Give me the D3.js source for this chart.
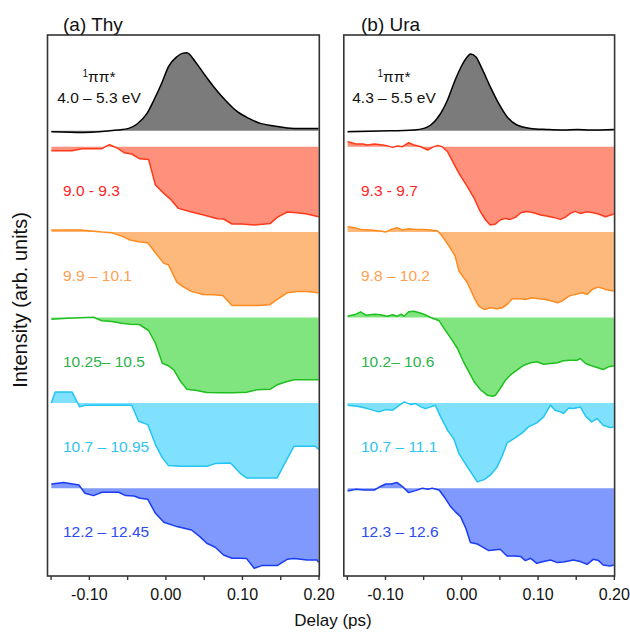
<!DOCTYPE html>
<html>
<head>
<meta charset="utf-8">
<script src="https://cdn.jsdelivr.net/npm/d3@7"></script>
<style>
  body { margin: 0; background: #fff; }
  svg { display: block; }
  text { font-family: "Liberation Sans", Arial, Helvetica, sans-serif; }
</style>
</head>
<body>
<svg id="chart" width="630" height="632"></svg>
<script>
// ---------- data: photoelectron signal vs pump-probe delay (ps), arb. units ----------
const panelTitles = ["(a) Thy", "(b) Ura"];
const stateLabel = ["1", "ππ*"];
const piRanges = ["4.0 – 5.3 eV", "4.3 – 5.5 eV"];
const thyBands = ["9.0 - 9.3", "9.9 – 10.1", "10.25– 10.5", "10.7 – 10.95", "12.2 – 12.45"];
const uraBands = ["9.3 - 9.7", "9.8 – 10.2", "10.2– 10.6", "10.7 – 11.1", "12.3 – 12.6"];

const tickValues = [-0.15, -0.10, -0.05, 0.00, 0.05, 0.10, 0.15, 0.20];
const tickLabels = ["", "-0.10", "", "0.00", "", "0.10", "", "0.20"];

// Thymine
const thyPiT = [-0.149,-0.107,-0.063,-0.048,-0.037,-0.024,-0.015,-0.004,0.004,0.015,0.022,0.028,0.039,0.050,0.063,0.078,0.094,0.109,0.124,0.142,0.168,0.200];
const thyPiV = [-1,-1.7,0.7,2.3,6.7,17.3,30.7,49,64,74,77.3,78,69,57.3,44,30.7,19,12.3,7.3,4.7,2.3,2.3];

const thy1T = [-0.149,-0.122,-0.109,-0.083,-0.073,-0.063,-0.054,-0.044,-0.034,-0.022,-0.013,-0.002,0.007,0.017,0.033,0.050,0.068,0.076,0.087,0.100,0.116,0.137,0.146,0.159,0.172,0.185,0.200];
const thy1V = [-4,-4,-2,-2,2,-1.3,-6,-7.3,-12,-12.7,-38.3,-46.7,-52.7,-61.7,-65,-68.3,-72,-72.3,-77.3,-77.3,-78.3,-76.7,-70.7,-65.3,-66,-67.3,-70];

const thy2T = [-0.149,-0.111,-0.083,-0.070,-0.057,-0.046,-0.035,-0.023,-0.013,-0.002,0.004,0.015,0.022,0.033,0.048,0.063,0.075,0.087,0.102,0.120,0.136,0.146,0.159,0.172,0.185,0.200];
const thy2V = [2,2,0,-0.7,-4,-8,-9.7,-10.7,-20.7,-31.3,-32.7,-50,-54,-59,-62.3,-62.7,-63.3,-73.3,-73.3,-73.3,-72.7,-67.3,-60.7,-59.3,-59.3,-60.7];

const thy3T = [-0.149,-0.128,-0.094,-0.083,-0.070,-0.057,-0.046,-0.034,-0.022,-0.013,-0.004,0.004,0.011,0.020,0.028,0.041,0.054,0.072,0.089,0.106,0.119,0.137,0.146,0.159,0.168,0.200];
const thy3V = [-1.7,-0.7,0.3,-3.3,-4,-5.7,-6.7,-7,-13,-25.7,-45.7,-48.3,-52.3,-64,-71.7,-73,-75,-75.3,-75.3,-74.7,-72.3,-71.7,-67.3,-64,-62.3,-62.3];

const thy4T = [-0.149,-0.144,-0.122,-0.112,-0.105,-0.044,-0.035,-0.023,-0.013,-0.004,0.004,0.020,0.054,0.065,0.085,0.098,0.106,0.146,0.154,0.168,0.196,0.200];
const thy4V = [0,11,11,-4,-2.3,-2.3,-18.3,-21.7,-41.7,-55,-62.7,-63.3,-63.3,-60.7,-60,-70.7,-75,-75,-63.3,-43.3,-43.3,-46.7];

const thy5T = [-0.149,-0.133,-0.113,-0.105,-0.094,-0.083,-0.061,-0.052,-0.041,-0.033,-0.023,-0.013,-0.002,0.015,0.034,0.045,0.054,0.065,0.076,0.087,0.098,0.106,0.116,0.126,0.146,0.159,0.168,0.185,0.198,0.200];
const thy5V = [4.3,5.7,3.3,-5,-7.3,-4,-4,-7.3,-7.7,-10,-11,-25,-34,-38.3,-41.7,-48.3,-55,-59,-66.7,-70,-70,-70.3,-80,-77.3,-77.3,-71,-70.3,-71.7,-71.7,-74];

// Uracil
const uraPiT = [-0.149,-0.106,-0.062,-0.049,-0.040,-0.027,-0.018,-0.008,0.001,0.008,0.012,0.019,0.027,0.038,0.049,0.060,0.073,0.091,0.112,0.134,0.152,0.169,0.200];
const uraPiV = [-1,-0.3,0.7,2.3,5.7,17.3,30.7,50.7,65.7,74,76.7,74,62.3,44,27.3,14,5.7,2.3,1.3,0.7,1.3,0.7,1.3];

const ura1T = [-0.149,-0.138,-0.129,-0.123,-0.114,-0.106,-0.099,-0.090,-0.084,-0.077,-0.069,-0.062,-0.053,-0.044,-0.038,-0.031,-0.025,-0.018,-0.010,-0.003,0.008,0.017,0.025,0.032,0.038,0.045,0.051,0.058,0.064,0.071,0.078,0.086,0.095,0.104,0.112,0.121,0.130,0.136,0.143,0.149,0.156,0.165,0.173,0.180,0.189,0.200];
const ura1V = [5,2.7,2.7,1.7,2.7,2,1.3,-0.7,0.7,0,4,1.7,0,-3.3,-0.7,1.3,0,-5,-16.7,-26.7,-40,-51.7,-65,-73.3,-78.3,-77.3,-73.3,-71.7,-72.7,-70.7,-66,-64.7,-66,-68.3,-69.3,-70.7,-72.7,-70.7,-66.7,-64.7,-66.7,-65,-66,-67.3,-70,-67.3];

const ura2T = [-0.149,-0.140,-0.132,-0.119,-0.106,-0.099,-0.092,-0.084,-0.077,-0.069,-0.060,-0.049,-0.040,-0.031,-0.025,-0.016,-0.008,-0.003,0.008,0.017,0.023,0.030,0.038,0.047,0.054,0.060,0.067,0.078,0.084,0.093,0.102,0.110,0.119,0.126,0.132,0.141,0.149,0.158,0.165,0.173,0.180,0.189,0.200];
const ura2V = [5.3,4.3,2.7,2,1,0,2.7,4.3,2,3.3,2.7,2.7,2,1,-4,-14,-24,-39,-50.7,-65.7,-74,-77.3,-75.7,-76.7,-75.7,-72.3,-66.7,-66.7,-67.3,-65.7,-66.7,-67.3,-69,-70.7,-69,-64,-62.3,-60.7,-62.3,-56.7,-55,-57.3,-59];

const ura3T = [-0.149,-0.138,-0.132,-0.125,-0.114,-0.106,-0.097,-0.090,-0.084,-0.079,-0.075,-0.069,-0.062,-0.055,-0.049,-0.040,-0.029,-0.021,-0.012,-0.005,-0.001,0.003,0.010,0.017,0.025,0.034,0.041,0.045,0.051,0.058,0.064,0.073,0.082,0.091,0.099,0.108,0.117,0.126,0.134,0.143,0.152,0.156,0.163,0.169,0.178,0.186,0.193,0.200];
const ura3V = [1.3,3.3,5.7,2.3,3.3,2.7,1.3,2.7,1.3,3.3,1.3,5.7,6.3,4.7,3.3,0,-3.3,-12.7,-22.7,-31,-37.7,-44.3,-54.3,-64.3,-72,-77.7,-78.7,-77.7,-71,-62.7,-57.7,-52.7,-47.7,-45.3,-44.3,-46.7,-46,-45.3,-43.3,-42.7,-42.7,-41,-46,-47.7,-50,-52,-49.3,-48.3];

const ura4T = [-0.149,-0.136,-0.123,-0.108,-0.099,-0.090,-0.084,-0.075,-0.066,-0.060,-0.053,-0.047,-0.040,-0.034,-0.027,-0.018,-0.010,-0.003,0.008,0.021,0.030,0.038,0.047,0.054,0.060,0.071,0.080,0.088,0.099,0.108,0.117,0.123,0.130,0.134,0.141,0.147,0.156,0.163,0.171,0.178,0.186,0.195,0.200];
const ura4V = [-2.3,-3.3,-5.7,-9,-6.7,-7.3,-4,1,-1.7,-0.7,-4,-5.7,-4,-2.3,-14,-27.3,-35.7,-50.7,-64,-79,-76.7,-72.3,-64,-52.3,-40,-34.7,-30,-24,-20,-14,-2.3,-7.3,-9,-10.7,-5,-5.7,-4,-13.3,-19,-15.7,-22.3,-24.7,-24];

const ura5T = [-0.149,-0.138,-0.127,-0.114,-0.108,-0.099,-0.092,-0.084,-0.077,-0.069,-0.060,-0.051,-0.044,-0.038,-0.029,-0.021,-0.014,-0.008,-0.001,0.006,0.012,0.021,0.027,0.036,0.043,0.051,0.060,0.069,0.078,0.084,0.091,0.099,0.108,0.117,0.126,0.134,0.147,0.156,0.165,0.173,0.180,0.186,0.195,0.200];
const ura5V = [-2.7,-1,-1.7,-1.7,1,4.3,4.3,5.7,1.7,-4.3,-2.3,0,-1,0,-1.7,-10,-18.3,-23.3,-28.3,-40,-54.3,-55.7,-58.3,-62.3,-61.7,-61,-67.7,-67.7,-68.3,-72.3,-70,-75,-73.3,-71.7,-74.3,-73.7,-71.7,-73.3,-76,-71,-72.3,-76.7,-77.7,-76.7];

// ---------- styling ----------
const lineColors  = ["#ff3a1c", "#ff8a1e", "#1fbf1f", "#22c4f2", "#1a3cf2"];
const fillColors  = ["#ff907c", "#fdb97c", "#80e57f", "#80e1fe", "#7f99fe"];
const labelColors = ["#ff2424", "#ffa050", "#2db24a", "#2ec4f0", "#2a4bf5"];

const svg = d3.select("#chart");
const frameTop = 35, frameBottom = 576;
const piBase = 130.7;          // zero line of the 1ππ* trace
const bandBase0 = 146.7;       // zero line of the first ionisation band
const bandStep = 85.4;         // vertical spacing between stacked bands
const xDomain = [-0.154, 0.201];

const panels = [
  { range: [47.5, 319.3], title: panelTitles[0], pi: [thyPiT, thyPiV], pr: piRanges[0],
    bands: [[thy1T, thy1V], [thy2T, thy2V], [thy3T, thy3V], [thy4T, thy4V], [thy5T, thy5V]],
    labels: thyBands, labelX: 63, titleX: 63, piLabelX: 99 },
  { range: [343.8, 614.6], title: panelTitles[1], pi: [uraPiT, uraPiV], pr: piRanges[1],
    bands: [[ura1T, ura1V], [ura2T, ura2V], [ura3T, ura3V], [ura4T, ura4V], [ura5T, ura5V]],
    labels: uraBands, labelX: 361, titleX: 361, piLabelX: 394 }
];

panels.forEach(p => {
  const x = d3.scaleLinear().domain(xDomain).range(p.range);
  const g = svg.append("g");

  // clip traces to the frame
  const clipId = "clip" + Math.round(p.range[0]);
  svg.append("clipPath").attr("id", clipId)
    .append("rect").attr("x", p.range[0]).attr("y", frameTop)
    .attr("width", p.range[1] - p.range[0]).attr("height", frameBottom - frameTop);
  const plot = g.append("g").attr("clip-path", `url(#${clipId})`);

  const drawTrace = (T, V, base, fill, stroke, curve) => {
    const y = d3.scaleLinear().domain([-100, 100]).range([base + 100, base - 100]);
    const pts = T.map((t, i) => [t, V[i]]);
    plot.append("path").datum(pts)
      .attr("fill", fill)
      .attr("d", d3.area().curve(curve).x(d => x(d[0])).y0(y(0)).y1(d => y(d[1])));
    plot.append("path").datum(pts)
      .attr("fill", "none").attr("stroke", stroke).attr("stroke-width", 1.5)
      .attr("stroke-linejoin", "round")
      .attr("d", d3.line().curve(curve).x(d => x(d[0])).y(d => y(d[1])));
  };

  drawTrace(p.pi[0], p.pi[1], piBase, "#7b7b7b", "#000", d3.curveMonotoneX);
  p.bands.forEach((b, i) => {
    drawTrace(b[0], b[1], bandBase0 + i * bandStep, fillColors[i], lineColors[i], d3.curveLinear);
  });

  // band labels
  p.labels.forEach((s, i) => {
    g.append("text").attr("x", p.labelX).attr("y", bandBase0 + i * bandStep + 49)
      .attr("font-size", 15.5).attr("fill", labelColors[i]).text(s);
  });

  // 1ππ* state label
  const st = g.append("text").attr("x", p.piLabelX).attr("y", 82)
    .attr("text-anchor", "middle").attr("font-size", 15.5).attr("fill", "#111");
  st.append("tspan").attr("font-size", 10).attr("dy", -5).text(stateLabel[0]);
  st.append("tspan").attr("dy", 5).text(stateLabel[1]);
  g.append("text").attr("x", p.piLabelX).attr("y", 103)
    .attr("text-anchor", "middle").attr("font-size", 15.5).attr("fill", "#111").text(p.pr);

  // frame
  g.append("rect").attr("x", p.range[0]).attr("y", frameTop)
    .attr("width", p.range[1] - p.range[0]).attr("height", frameBottom - frameTop)
    .attr("fill", "none").attr("stroke", "#333").attr("stroke-width", 1.6);

  // bottom axis
  const axis = d3.axisBottom(x).tickValues(tickValues).tickSize(4).tickPadding(9)
    .tickFormat((d, i) => tickLabels[i]);
  const ag = g.append("g").attr("transform", `translate(0,${frameBottom})`).call(axis);
  ag.select(".domain").remove();
  ag.selectAll(".tick line").attr("stroke", "#333").attr("stroke-width", 1.4);
  ag.selectAll(".tick text").attr("font-size", 16).attr("fill", "#111")
    .attr("font-family", "\"Liberation Sans\", Arial, sans-serif");

  // panel title
  g.append("text").attr("x", p.titleX).attr("y", 31).attr("font-size", 19)
    .attr("fill", "#111").text(p.title);
});

// axis titles
svg.append("text").attr("transform", "translate(27,300) rotate(-90)")
  .attr("text-anchor", "middle").attr("font-size", 20).attr("fill", "#111")
  .text("Intensity (arb. units)");
svg.append("text").attr("x", 333).attr("y", 626).attr("text-anchor", "middle")
  .attr("font-size", 17).attr("fill", "#111").text("Delay (ps)");
</script>
</body>
</html>
